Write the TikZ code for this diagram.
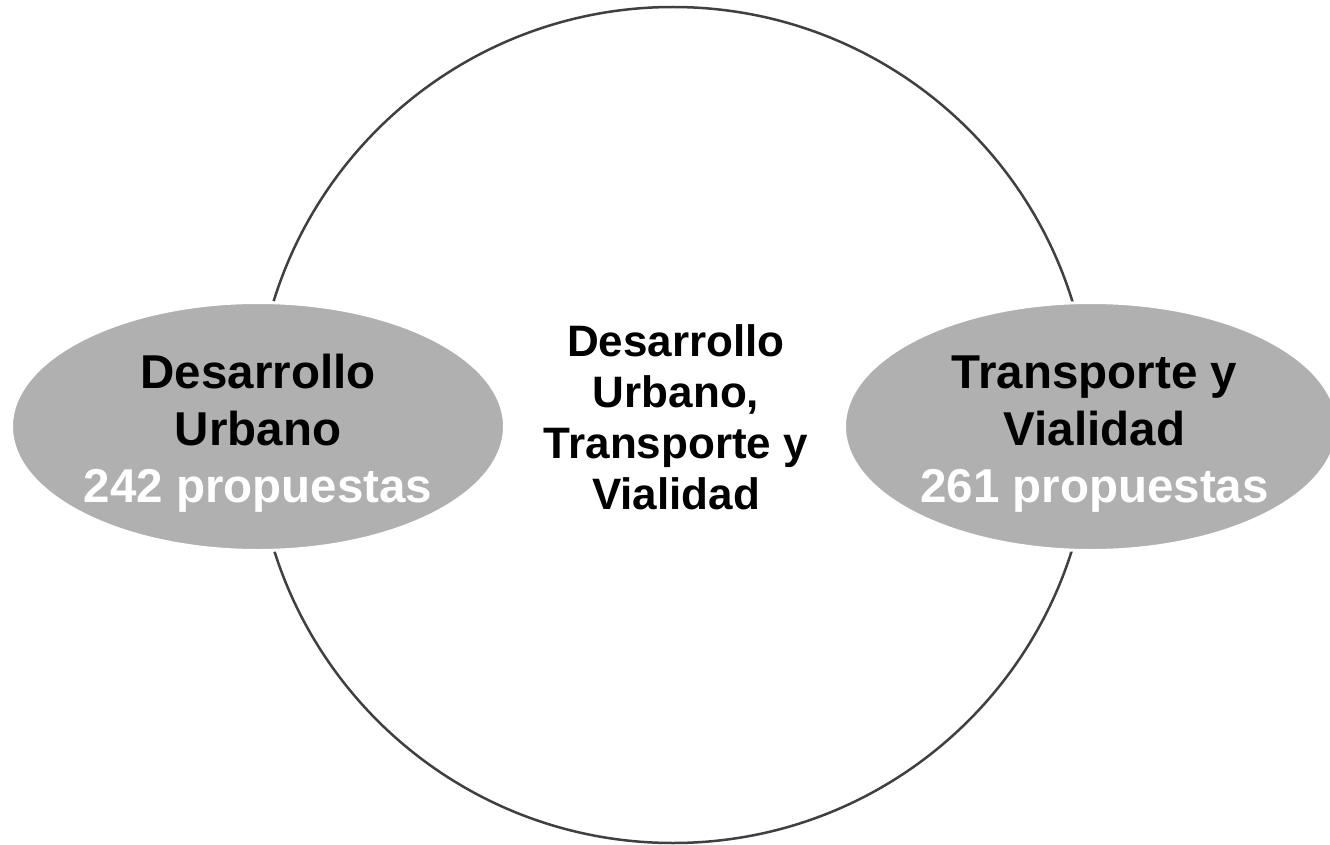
\documentclass[tikz,border=0pt]{standalone}
\usepackage{fontspec}
\setmainfont{Liberation Sans}
\usetikzlibrary{shapes.geometric}
\definecolor{ringline}{HTML}{404040}
\definecolor{blobfill}{HTML}{B0B0B0}
\tikzset{
  ring/.style={circle, draw=ringline, line width=2.5pt, minimum size=836pt, inner sep=0pt},
  blob/.style={ellipse, fill=blobfill, draw=white, line width=3pt, minimum width=493pt, minimum height=248pt, inner sep=0pt},
  blobtext/.style={align=center, font=\fontsize{47.5}{57}\selectfont\bfseries, inner sep=0pt},
  midtext/.style={align=center, font=\fontsize{44}{51}\selectfont\bfseries, inner sep=0pt},
}
\begin{document}
\begin{tikzpicture}[x=1pt,y=-1pt]
\useasboundingbox (0,0) rectangle (1330,845);
\clip (0,0) rectangle (1330,845);
\fill[white] (0,0) rectangle (1330,845);
\node[ring] (ring) at (673,425) {};
\node[blob] (left) at (258,426.5) {};
\node[blob] (right) at (1091,426.5) {};
\node[blobtext] (lefttext) at (258,433.7) {Desarrollo\\Urbano\\\textcolor{white}{242 propuestas}};
\node[blobtext] (righttext) at (1094.5,433.7) {Transporte y\\Vialidad\\\textcolor{white}{261 propuestas}};
\node[midtext] (midtext) at (676,417) {Desarrollo\\Urbano,\\Transporte y\\Vialidad};
\end{tikzpicture}
\end{document}
